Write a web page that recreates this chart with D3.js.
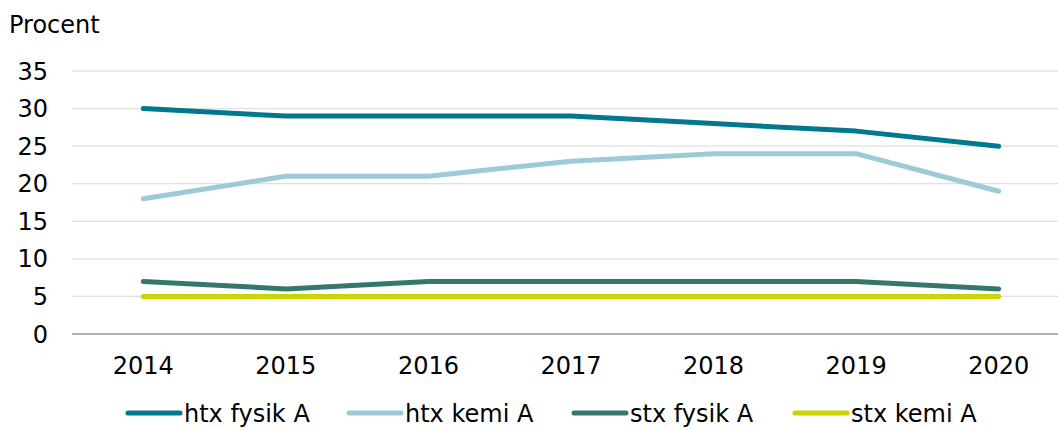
<!DOCTYPE html>
<html>
<head>
<meta charset="utf-8">
<script src="https://cdn.jsdelivr.net/npm/d3@7"></script>
<style>
  body { margin: 0; background: #fff; }
  text { font-family: "DejaVu Sans", Verdana, sans-serif; fill: #000; }
</style>
</head>
<body>
<script>
// data
const years = ["2014", "2015", "2016", "2017", "2018", "2019", "2020"];
const htxFysik = [30, 29, 29, 29, 28, 27, 25];
const htxKemi = [18, 21, 21, 23, 24, 24, 19];
const stxFysik = [7, 6, 7, 7, 7, 7, 6];
const stxKemi = [5, 5, 5, 5, 5, 5, 5];
const yTicks = [0, 5, 10, 15, 20, 25, 30, 35];
const seriesNames = ["htx fysik A", "htx kemi A", "stx fysik A", "stx kemi A"];
const colors = ["#00788f", "#9ccbd7", "#35786b", "#c9d400"];

const series = [htxFysik, htxKemi, stxFysik, stxKemi].map((v, i) => ({
  name: seriesNames[i], color: colors[i], values: v
}));

const W = 1058, H = 430;
const svg = d3.select("body").append("svg")
  .attr("width", W).attr("height", H);

const x = d3.scaleBand().domain(years).range([72, 1070]);
const y = d3.scaleLinear().domain([0, 35]).range([334, 71]);

// gridlines
svg.append("g").selectAll("line")
  .data(yTicks)
  .enter().append("line")
  .attr("x1", 72).attr("x2", W)
  .attr("y1", d => y(d)).attr("y2", d => y(d))
  .attr("stroke", d => d === 0 ? "#b0b0b0" : "#e0e0e0")
  .attr("stroke-width", d => d === 0 ? 2 : 1.3);

// y axis labels
svg.append("g").selectAll("text")
  .data(yTicks)
  .enter().append("text")
  .attr("x", 48).attr("y", d => y(d))
  .attr("dy", "0.36em")
  .attr("text-anchor", "end")
  .style("font-size", "24px")
  .text(d => d);

svg.append("text")
  .attr("x", 9).attr("y", 33)
  .style("font-size", "24px")
  .text("Procent");

// x axis labels
svg.append("g").selectAll("text")
  .data(years)
  .enter().append("text")
  .attr("x", d => x(d) + x.bandwidth() / 2).attr("y", 374)
  .attr("text-anchor", "middle")
  .style("font-size", "24px")
  .text(d => d);

// lines
const line = d3.line()
  .x((d, i) => x(years[i]) + x.bandwidth() / 2)
  .y(d => y(d));

svg.append("g").selectAll("path")
  .data(series)
  .enter().append("path")
  .attr("d", d => line(d.values))
  .attr("fill", "none")
  .attr("stroke", d => d.color)
  .attr("stroke-width", 5)
  .attr("stroke-linecap", "round")
  .attr("stroke-linejoin", "round");

// legend
const legendX = [128, 349, 574, 795];
const lg = svg.append("g").selectAll("g")
  .data(series)
  .enter().append("g")
  .attr("transform", (d, i) => `translate(${legendX[i]},413)`);
lg.append("line")
  .attr("x1", 0).attr("x2", 52)
  .attr("stroke", d => d.color)
  .attr("stroke-width", 5)
  .attr("stroke-linecap", "round");
lg.append("text")
  .attr("x", 56).attr("dy", "0.36em")
  .style("font-size", "24px")
  .text(d => d.name);
</script>
</body>
</html>
